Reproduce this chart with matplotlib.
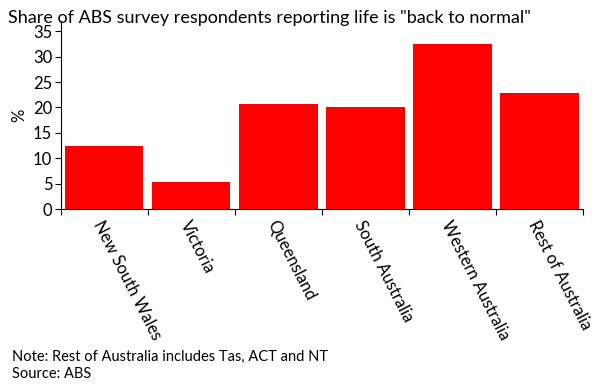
import matplotlib
matplotlib.use("Agg")
import matplotlib.pyplot as plt
import numpy as np

categories = ["New South Wales", "Victoria", "Queensland", "South Australia",
              "Western Australia", "Rest of Australia"]
values = [12.5, 5.3, 20.7, 20.0, 32.5, 22.8]
yticks = [0, 5, 10, 15, 20, 25, 30, 35]

plt.rcParams['font.family'] = ['Lato', 'DejaVu Sans']

fig = plt.figure(figsize=(6.12, 3.89), dpi=100)
ax = fig.add_axes([0.099, 0.4615, 0.854, 0.485])
x = np.arange(len(categories))
ax.bar(x, values, width=0.9, color='#ff0000')

ax.set_xlim(-0.5, len(categories) - 0.5)
ax.set_ylim(0, 37)
ax.set_yticks(yticks)
ax.set_yticklabels([str(v) for v in yticks], fontsize=12)
ax.set_xticks(np.arange(len(categories) + 1) - 0.5)
ax.set_xticklabels([])
ax.set_xticks(x, minor=True)
ax.set_xticklabels(categories, minor=True, rotation=-63, ha='left', va='top',
                   rotation_mode='anchor', fontsize=12)
ax.tick_params(axis='x', which='minor', length=0, pad=6)
ax.tick_params(axis='x', which='major', length=4, direction='out', width=0.8)
ax.tick_params(axis='y', length=4, direction='out', width=0.8, pad=2)
for s in ['top', 'right']:
    ax.spines[s].set_visible(False)
ax.set_ylabel('%', fontsize=12, labelpad=4)

fig.text(0.013, 0.975, 'Share of ABS survey respondents reporting life is "back to normal"',
         fontsize=13, ha='left', va='top')
fig.text(0.02, 0.082, 'Note: Rest of Australia includes Tas, ACT and NT', fontsize=10.5,
         ha='left', va='center')
fig.text(0.02, 0.038, 'Source: ABS', fontsize=10.5, ha='left', va='center')

fig.savefig('out.png', dpi=100)
